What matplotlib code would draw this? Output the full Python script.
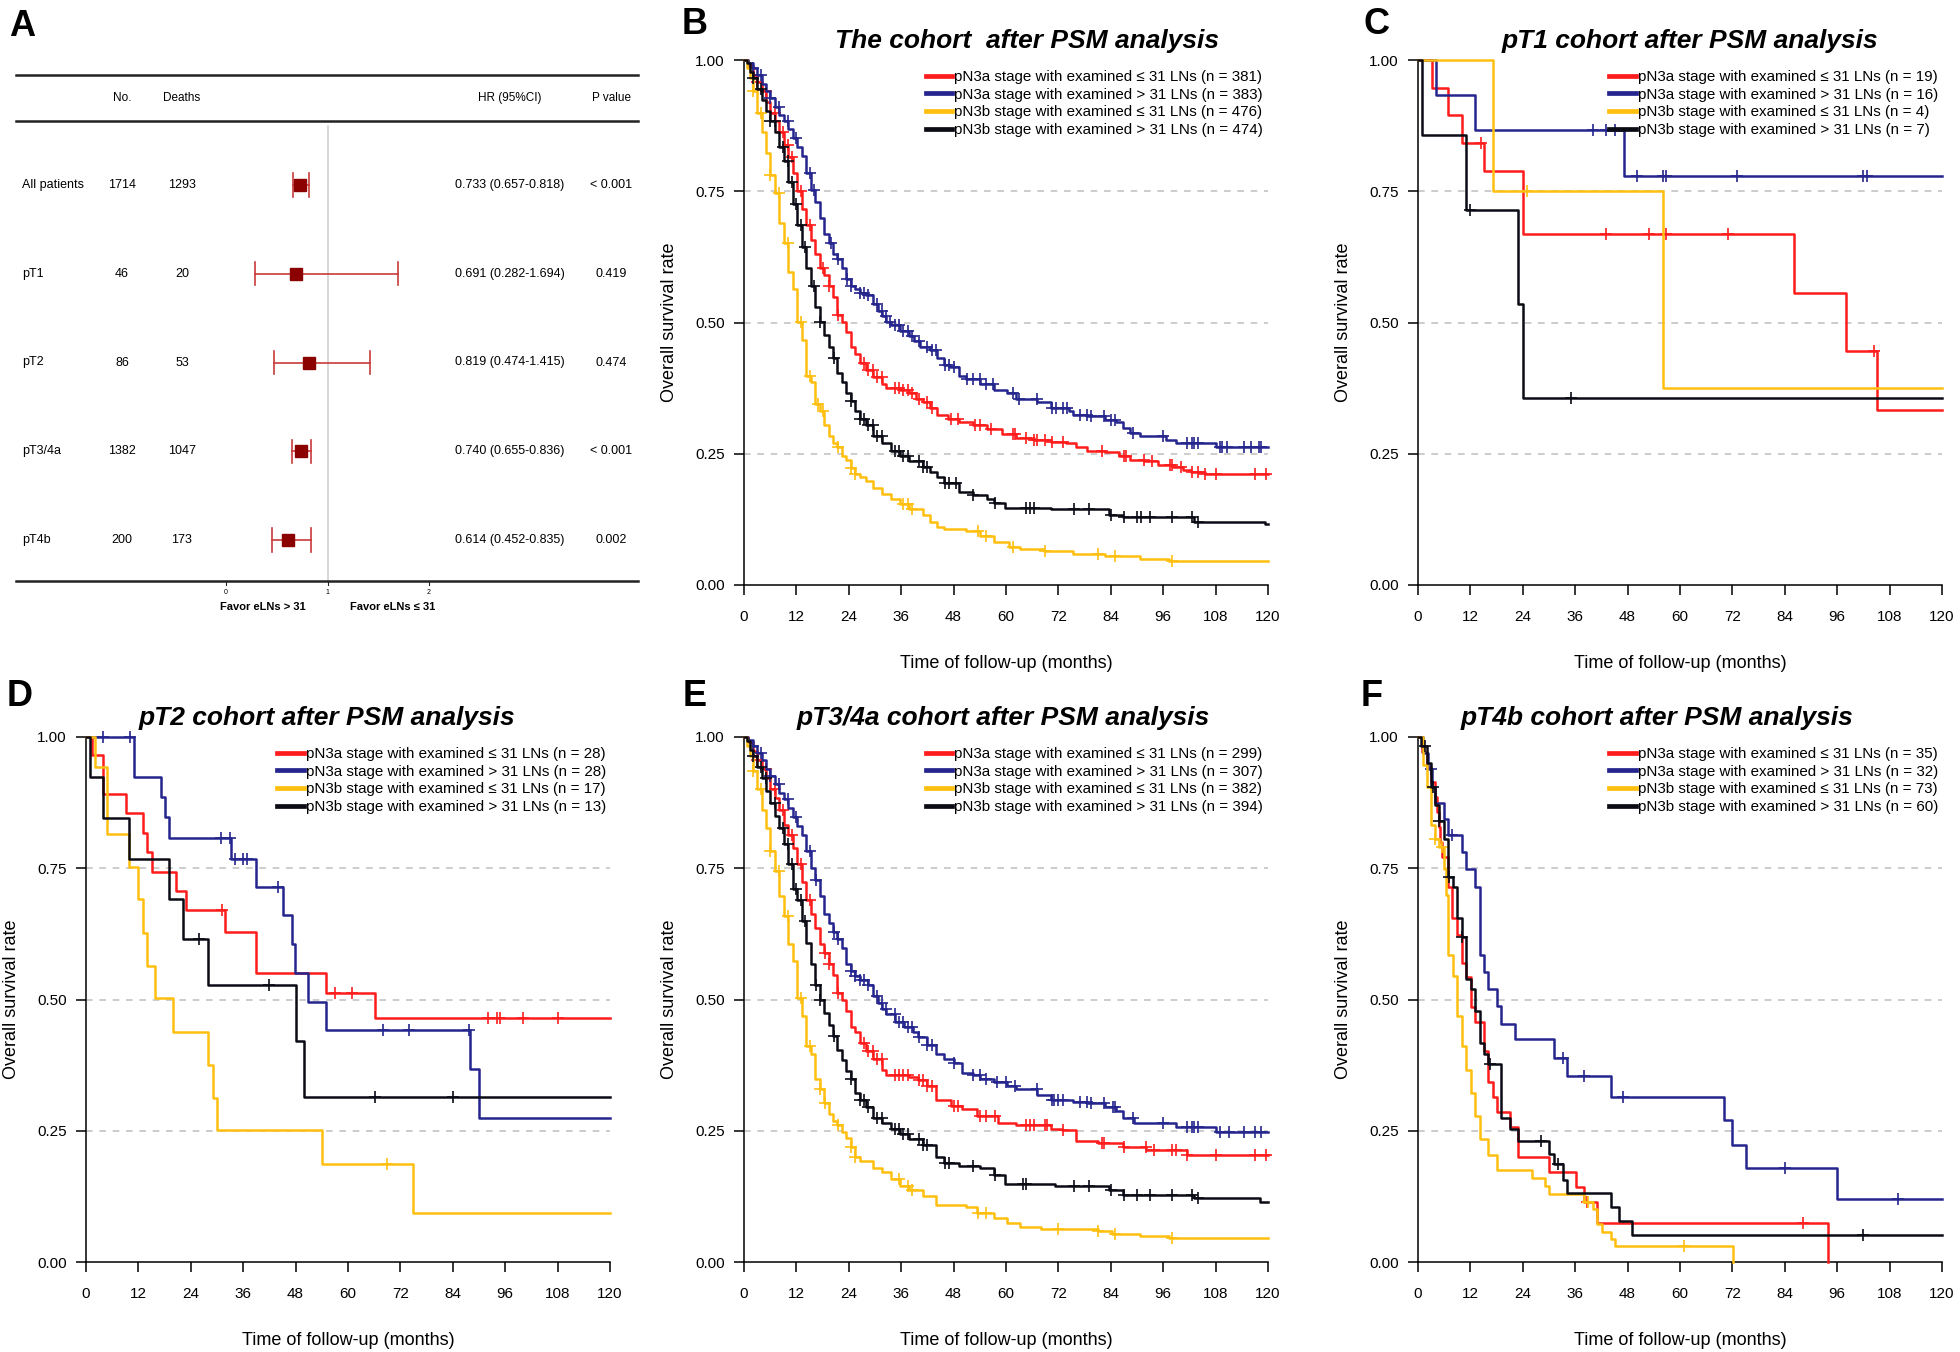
import numpy as np
import matplotlib
matplotlib.use("Agg")
import matplotlib.pyplot as plt
from matplotlib.lines import Line2D
from matplotlib.transforms import blended_transform_factory

plt.rcParams['font.family'] = ['Liberation Sans', 'DejaVu Sans']

RED = '#ff1c1c'
BLUE = '#25258e'
YELLOW = '#ffbf0f'
BLACK = '#0b0b16'

# ---------------- panel A: forest plot ----------------
groups = ['All patients', 'pT1', 'pT2', 'pT3/4a', 'pT4b']
n_pts = [1714, 46, 86, 1382, 200]
deaths = [1293, 20, 53, 1047, 173]
hr = [0.733, 0.691, 0.819, 0.740, 0.614]
hr_lo = [0.657, 0.282, 0.474, 0.655, 0.452]
hr_hi = [0.818, 1.694, 1.415, 0.836, 0.835]
p_vals = ['< 0.001', '0.419', '0.474', '< 0.001', '0.002']
hr_ticks = [0, 1, 2]

# ---------------- panel B: whole cohort ----------------
b_red_t = [1.0, 2.0, 3.0, 4.1, 5.1, 6.0, 7.1, 8.1, 9.1, 10.1, 11.2, 12.2, 13.2, 14.2, 15.3, 16.3, 17.3, 18.3,
           19.4, 20.3, 21.4, 22.4, 23.4, 24.4, 25.5, 26.5, 27.9, 29.6, 31.6, 32.6, 35.7, 37.7, 39.4, 41.0,
           42.6, 44.3, 46.7, 49.2, 52.4, 55.7, 59.0, 62.2, 66.3, 70.4, 73.7, 76.1, 78.6, 82.7, 85.9, 88.4,
           91.7, 94.9, 98.2, 100.6, 102.3, 105.5]
b_red_s = [0.988, 0.971, 0.958, 0.941, 0.920, 0.900, 0.883, 0.862, 0.839, 0.815, 0.784, 0.750, 0.716, 0.685,
           0.658, 0.631, 0.604, 0.590, 0.569, 0.549, 0.515, 0.501, 0.481, 0.454, 0.440, 0.423, 0.409, 0.396,
           0.382, 0.375, 0.372, 0.365, 0.355, 0.348, 0.338, 0.324, 0.317, 0.311, 0.304, 0.297, 0.287, 0.280,
           0.277, 0.273, 0.270, 0.263, 0.256, 0.253, 0.246, 0.239, 0.236, 0.229, 0.225, 0.219, 0.215, 0.212]
b_red_c = [3, 5, 7, 9, 10, 11, 13, 15, 18, 19.5, 21.5, 27.5, 28.5, 29.5, 30.5, 31.5, 34.5, 35.5, 36.5, 37.5,
           38.5, 40, 42, 43, 47.5, 49, 53, 54, 56.5, 61.5, 62, 64.5, 66.5, 67, 69, 70.5, 73, 82, 87, 87.5,
           91.5, 93.5, 97.5, 98, 100, 102.5, 104, 105.5, 108, 117, 119.5]

b_blue_t = [1.0, 2.0, 3.0, 4.1, 5.1, 6.0, 7.1, 8.1, 9.1, 10.1, 11.2, 12.2, 13.2, 14.2, 15.3, 16.3, 17.3, 18.3,
            19.4, 20.3, 21.4, 22.4, 23.4, 24.4, 25.5, 26.5, 27.9, 29.6, 30.6, 31.6, 32.6, 33.7, 35.7, 37.7,
            39.0, 40.2, 42.6, 44.3, 45.9, 47.1, 49.2, 50.8, 54.1, 57.3, 60.2, 62.2, 67.1, 70.4, 74.5, 75.3,
            78.6, 82.7, 85.1, 86.8, 88.4, 90.8, 96.6, 99.0, 108.0]
b_blue_s = [0.995, 0.985, 0.971, 0.954, 0.941, 0.927, 0.910, 0.896, 0.883, 0.869, 0.852, 0.835, 0.818, 0.784,
            0.753, 0.730, 0.699, 0.668, 0.651, 0.631, 0.621, 0.604, 0.583, 0.569, 0.563, 0.556, 0.552, 0.535,
            0.522, 0.512, 0.501, 0.495, 0.484, 0.474, 0.464, 0.454, 0.447, 0.433, 0.420, 0.416, 0.399, 0.392,
            0.382, 0.372, 0.365, 0.355, 0.348, 0.338, 0.331, 0.324, 0.321, 0.314, 0.311, 0.300, 0.290, 0.283,
            0.277, 0.270, 0.263]
b_blue_c = [2, 4, 6, 8, 10, 12, 15, 16, 20, 21.5, 23.5, 24.5, 26.5, 27.5, 28.5, 30.5, 31.5, 32.5, 33.5, 34.5,
            35.5, 36.5, 37.5, 38.5, 40, 42, 43, 44, 46, 47, 48, 51, 52.5, 54, 55.5, 57, 61.5, 63, 67, 70.5,
            71.5, 73, 74, 77, 78.5, 79.5, 82.5, 84, 85, 89, 96, 101.5, 102.5, 103, 104, 109, 109.5, 110.5,
            114.5, 116, 118, 118.5]

b_yellow_t = [0.6, 1.4, 2.0, 3.0, 4.1, 5.1, 6.0, 7.1, 8.1, 9.1, 10.1, 11.2, 12.2, 13.2, 14.2, 15.3, 16.3, 17.3,
              18.3, 19.4, 20.3, 21.4, 22.4, 23.4, 24.4, 25.5, 26.5, 27.9, 29.6, 31.6, 33.7, 35.7, 37.7, 41.0,
              42.6, 44.3, 45.9, 50.8, 54.1, 57.3, 60.6, 63.1, 68.8, 75.3, 82.7, 90.8, 97.4]
b_yellow_s = [0.985, 0.965, 0.941, 0.900, 0.862, 0.822, 0.781, 0.747, 0.689, 0.651, 0.597, 0.563, 0.501, 0.467,
              0.399, 0.386, 0.345, 0.331, 0.304, 0.283, 0.270, 0.263, 0.246, 0.239, 0.222, 0.212, 0.205, 0.198,
              0.185, 0.174, 0.164, 0.154, 0.144, 0.134, 0.120, 0.110, 0.106, 0.103, 0.093, 0.082, 0.072, 0.069,
              0.065, 0.059, 0.055, 0.049, 0.045]
b_yellow_c = [2, 4, 6, 8, 10, 13, 15, 17, 18, 21.5, 24.5, 25.5, 36.5, 37.5, 38.5, 53.5, 55.5, 61.5, 69, 81,
              85, 98]

b_black_t = [0.6, 1.4, 2.0, 3.0, 4.1, 5.1, 6.0, 7.1, 8.1, 9.1, 10.1, 11.2, 12.2, 13.2, 14.2, 15.3, 16.3, 17.3,
             18.3, 19.4, 20.3, 21.4, 22.4, 23.4, 24.4, 25.5, 26.5, 27.9, 29.6, 31.6, 33.7, 35.7, 37.7, 41.0,
             42.6, 44.3, 45.9, 49.2, 52.4, 55.7, 57.3, 59.8, 70.4, 83.5, 86.8, 103.1, 119.4]
b_black_s = [0.995, 0.978, 0.965, 0.944, 0.924, 0.903, 0.883, 0.862, 0.835, 0.808, 0.767, 0.726, 0.685, 0.644,
             0.604, 0.569, 0.529, 0.501, 0.477, 0.454, 0.433, 0.403, 0.386, 0.365, 0.351, 0.331, 0.317, 0.304,
             0.283, 0.270, 0.256, 0.246, 0.236, 0.225, 0.215, 0.205, 0.195, 0.178, 0.171, 0.164, 0.157, 0.147,
             0.144, 0.134, 0.130, 0.120, 0.116]
b_black_c = [2, 4, 6, 7, 9, 10, 11, 12, 13, 14, 16, 17.5, 20.5, 24.5, 26.5, 27.5, 28.5, 29.5, 30.5, 31.5,
             34.5, 35.5, 36.5, 37.5, 40, 41, 42, 46, 47, 48.5, 52.5, 57.5, 64.5, 65.5, 66.5, 75.5, 79, 84, 87,
             90, 91, 93, 98, 102.5, 104]

# ---------------- panel C: pT1 ----------------
c_red_t = [3.1, 6.9, 10.1, 15.0, 24.0, 86.0, 98.0, 105.0]
c_red_s = [0.947, 0.895, 0.842, 0.789, 0.668, 0.557, 0.446, 0.334]
c_red_c = [14.4, 43.0, 52.9, 56.9, 71.0, 104.5]
c_blue_t = [4.2, 13.0, 47.1]
c_blue_s = [0.934, 0.866, 0.780]
c_blue_c = [40.0, 43.0, 45.0, 50.1, 56.0, 56.9, 73.0, 101.9, 102.8]
c_yellow_t = [17.1, 56.0]
c_yellow_s = [0.750, 0.376]
c_yellow_c = [24.9]
c_black_t = [0.9, 10.9, 23.0, 24.0]
c_black_s = [0.858, 0.714, 0.535, 0.357]
c_black_c = [12.0, 35.0]

# ---------------- panel D: pT2 ----------------
d_red_t = [1.3, 4.0, 9.1, 13.0, 14.0, 15.0, 20.7, 23.0, 31.9, 38.9, 54.9, 66.1]
d_red_s = [0.965, 0.892, 0.856, 0.817, 0.780, 0.743, 0.707, 0.670, 0.629, 0.551, 0.512, 0.465]
d_red_c = [31.1, 57.1, 60.9, 92.0, 94.1, 94.9, 100.0, 108.0]
d_blue_t = [11.0, 17.1, 18.1, 19.0, 33.2, 38.9, 45.1, 47.1, 47.9, 50.8, 54.9, 88.0, 90.0]
d_blue_s = [0.924, 0.886, 0.847, 0.807, 0.768, 0.715, 0.661, 0.605, 0.551, 0.495, 0.441, 0.368, 0.275]
d_blue_c = [4.0, 10.0, 31.0, 33.0, 34.1, 35.9, 36.8, 44.0, 68.0, 73.9, 87.7]
d_yellow_t = [2.0, 4.9, 9.8, 11.9, 13.0, 14.0, 15.9, 19.9, 27.9, 29.0, 29.9, 54.0, 75.0]
d_yellow_s = [0.942, 0.815, 0.753, 0.691, 0.627, 0.564, 0.503, 0.439, 0.376, 0.313, 0.251, 0.187, 0.093]
d_yellow_c = [68.9]
d_black_t = [1.0, 4.0, 9.8, 19.0, 22.1, 27.9, 48.0, 50.0]
d_black_s = [0.924, 0.846, 0.768, 0.692, 0.615, 0.527, 0.421, 0.315]
d_black_c = [25.9, 42.0, 66.1, 84.1]

# ---------------- panel E: pT3/4a ----------------
e_red_t = [1.0, 2.0, 3.0, 4.1, 5.1, 6.0, 7.1, 8.1, 9.1, 10.1, 11.2, 12.2, 13.2, 14.2, 15.3, 16.3, 17.3, 18.3,
           19.4, 20.3, 21.4, 22.4, 23.4, 24.4, 25.5, 26.5, 27.9, 29.6, 31.6, 32.6, 37.7, 39.8, 41.8, 43.9,
           47.5, 50.0, 53.3, 58.2, 62.2, 70.4, 72.9, 76.1, 81.0, 86.8, 92.1, 101.5]
e_red_s = [0.990, 0.973, 0.956, 0.939, 0.922, 0.901, 0.884, 0.860, 0.833, 0.813, 0.789, 0.758, 0.724, 0.690,
           0.663, 0.636, 0.605, 0.588, 0.567, 0.547, 0.513, 0.499, 0.479, 0.448, 0.438, 0.418, 0.401, 0.387,
           0.366, 0.356, 0.353, 0.346, 0.336, 0.309, 0.298, 0.292, 0.278, 0.264, 0.261, 0.254, 0.251, 0.230,
           0.227, 0.220, 0.213, 0.203]
e_red_c = [3, 5, 7, 9, 11, 13, 15, 18.5, 19.5, 21.5, 27.5, 28.5, 29.5, 30.5, 31.5, 34.5, 35.5, 36.5, 37.5,
           40, 41, 42, 43, 48, 49, 54, 55.5, 57.5, 64.5, 65.5, 66.5, 69, 69.5, 73, 82, 82.5, 87, 92, 94, 98,
           99, 101.5, 108, 117, 119.5]

e_blue_t = [1.0, 2.0, 3.0, 4.1, 5.1, 6.0, 7.1, 8.1, 9.1, 10.1, 11.2, 12.2, 13.2, 14.2, 15.3, 16.3, 17.3, 18.3,
            19.4, 20.3, 21.4, 22.4, 23.4, 24.4, 25.5, 26.5, 28.5, 29.6, 30.6, 31.6, 32.6, 34.6, 36.7, 38.7,
            39.8, 41.8, 43.9, 45.9, 48.0, 50.0, 52.4, 54.1, 57.3, 60.2, 62.2, 67.2, 70.4, 75.3, 78.6, 82.7,
            85.1, 86.8, 89.2, 99.0, 108.0]
e_blue_s = [0.995, 0.983, 0.969, 0.956, 0.939, 0.925, 0.911, 0.894, 0.881, 0.864, 0.847, 0.830, 0.813, 0.782,
            0.751, 0.728, 0.697, 0.663, 0.646, 0.629, 0.615, 0.598, 0.567, 0.554, 0.544, 0.537, 0.527, 0.506,
            0.493, 0.482, 0.472, 0.458, 0.448, 0.438, 0.428, 0.414, 0.397, 0.387, 0.380, 0.360, 0.356, 0.349,
            0.343, 0.336, 0.329, 0.319, 0.309, 0.305, 0.302, 0.295, 0.288, 0.275, 0.264, 0.257, 0.247]
e_blue_c = [2, 4, 6, 8, 10, 12, 15, 16.5, 20.5, 21.5, 24.5, 25.5, 26.5, 27.5, 28.5, 30.5, 31.5, 32.5, 34.5,
            35.5, 36.5, 37.5, 38.5, 40, 42, 43, 48, 52.5, 54, 55.5, 58, 60, 62, 67, 70.5, 71, 72, 73, 77,
            78.5, 79.5, 82.5, 84.5, 85, 89, 96, 101.5, 102.5, 103, 104, 109, 111, 114.5, 117, 118.5]

e_yellow_t = [0.6, 1.4, 2.0, 3.0, 4.1, 5.1, 6.0, 7.1, 8.1, 9.1, 10.1, 11.2, 12.2, 13.2, 14.2, 15.3, 16.3, 17.3,
              18.3, 19.4, 20.3, 21.4, 22.4, 23.4, 24.4, 25.5, 26.5, 29.6, 31.6, 33.7, 35.7, 37.7, 41.0, 43.9,
              50.8, 53.3, 57.3, 60.2, 63.1, 68.0, 81.0, 84.3, 90.8, 97.4]
e_yellow_s = [0.983, 0.963, 0.935, 0.901, 0.860, 0.826, 0.782, 0.745, 0.697, 0.659, 0.605, 0.574, 0.503, 0.469,
              0.411, 0.397, 0.349, 0.329, 0.302, 0.281, 0.268, 0.261, 0.247, 0.237, 0.220, 0.200, 0.193, 0.179,
              0.172, 0.159, 0.145, 0.138, 0.125, 0.108, 0.104, 0.094, 0.084, 0.074, 0.067, 0.063, 0.060, 0.053,
              0.050, 0.045]
e_yellow_c = [2, 4, 6, 8, 10, 13, 15, 17.5, 18.5, 21.5, 24.5, 25.5, 35.5, 37.5, 38.5, 53.5, 55.5, 72, 81,
              85, 98]

e_black_t = [0.6, 1.4, 2.0, 3.0, 4.1, 5.1, 6.0, 7.1, 8.1, 9.1, 10.1, 11.2, 12.2, 13.2, 14.2, 15.3, 16.3, 17.3,
             18.3, 19.4, 20.3, 21.4, 22.4, 23.4, 24.4, 25.5, 26.5, 27.9, 29.6, 31.6, 33.7, 35.7, 37.7, 41.0,
             43.9, 45.9, 49.2, 54.1, 57.3, 59.8, 71.2, 83.5, 86.8, 103.1, 118.2]
e_black_s = [0.993, 0.976, 0.963, 0.942, 0.922, 0.898, 0.874, 0.850, 0.826, 0.796, 0.758, 0.710, 0.690, 0.649,
             0.608, 0.567, 0.527, 0.499, 0.475, 0.452, 0.431, 0.404, 0.384, 0.363, 0.349, 0.322, 0.309, 0.295,
             0.275, 0.264, 0.254, 0.244, 0.234, 0.223, 0.200, 0.189, 0.183, 0.179, 0.166, 0.149, 0.145, 0.138,
             0.128, 0.121, 0.114]
e_black_c = [2, 4, 5, 7, 9, 10, 11, 12, 13, 14, 16.5, 17.5, 20.5, 24.5, 26.5, 27.5, 28.5, 30.5, 31.5, 34.5,
             35.5, 36.5, 37.5, 40, 41, 42, 46, 47, 52.5, 57.5, 64, 64.5, 75.5, 79, 84, 87, 90, 93, 98, 102.5,
             104]

# ---------------- panel F: pT4b ----------------
f_red_t = [0.9, 2.0, 2.9, 3.9, 4.3, 4.7, 5.1, 5.4, 6.9, 7.8, 9.0, 10.0, 11.0, 12.1, 13.1, 15.0, 16.1, 17.1,
           18.1, 21.1, 23.0, 30.1, 36.1, 38.1, 41.1, 94.0]
f_red_s = [0.971, 0.943, 0.914, 0.886, 0.857, 0.829, 0.800, 0.771, 0.714, 0.656, 0.622, 0.570, 0.542, 0.486,
           0.458, 0.401, 0.343, 0.315, 0.285, 0.258, 0.200, 0.171, 0.142, 0.114, 0.075, 0.0]
f_red_c = [38.8, 88.1]
f_blue_t = [1.1, 2.3, 3.1, 3.9, 6.0, 6.9, 10.0, 11.0, 13.1, 14.1, 15.0, 16.1, 18.1, 19.1, 22.1, 31.1, 34.1,
            44.1, 70.1, 72.0, 75.0, 96.0]
f_blue_s = [0.970, 0.940, 0.905, 0.874, 0.843, 0.813, 0.780, 0.749, 0.714, 0.584, 0.552, 0.520, 0.487, 0.454,
            0.424, 0.389, 0.354, 0.315, 0.270, 0.223, 0.179, 0.120]
f_blue_c = [3.0, 7.8, 33.1, 38.1, 47.0, 84.1, 110.0]
f_yellow_t = [1.1, 2.0, 2.9, 3.9, 4.9, 6.0, 6.4, 6.9, 8.0, 9.0, 10.0, 11.0, 12.1, 13.1, 14.1, 16.1, 18.1,
              26.1, 29.1, 30.1, 38.1, 40.1, 41.1, 42.1, 44.1, 45.1, 72.1]
f_yellow_s = [0.946, 0.905, 0.833, 0.806, 0.790, 0.748, 0.700, 0.584, 0.544, 0.469, 0.411, 0.366, 0.322,
              0.278, 0.234, 0.204, 0.176, 0.160, 0.145, 0.130, 0.114, 0.101, 0.072, 0.057, 0.043, 0.030, 0.0]
f_yellow_c = [3.9, 5.4, 39.0, 60.9]
f_black_t = [0.65, 2.0, 2.9, 3.9, 4.9, 6.0, 6.9, 8.0, 9.0, 10.0, 11.0, 12.1, 13.1, 14.1, 15.0, 16.1, 19.1,
             21.1, 23.0, 30.1, 31.1, 33.1, 34.1, 44.1, 46.1, 49.0]
f_black_s = [0.983, 0.950, 0.905, 0.870, 0.840, 0.806, 0.734, 0.714, 0.656, 0.619, 0.540, 0.520, 0.479,
             0.418, 0.397, 0.378, 0.275, 0.254, 0.230, 0.206, 0.186, 0.157, 0.131, 0.104, 0.079, 0.052]
f_black_c = [1.5, 3.5, 4.9, 7.2, 10.0, 16.6, 28.1, 32.1, 102.0]

legend_b = [381, 383, 476, 474]
legend_c = [19, 16, 4, 7]
legend_d = [28, 28, 17, 13]
legend_e = [299, 307, 382, 394]
legend_f = [35, 32, 73, 60]

W, H = 1960, 1352
fig = plt.figure(figsize=(W / 100, H / 100), dpi=100)


def fx(px):
    return px / W


def fy(py):
    return 1 - py / H


def km(ax, t, s, cens, color, end=120):
    t = np.asarray(t, float)
    s = np.asarray(s, float)
    last = end if s[-1] > 0 else t[-1]
    tt = np.concatenate([[0], t, [last]])
    ss = np.concatenate([[1.0], s, [s[-1]]])
    ax.step(tt, ss, where='post', color=color, lw=1.8, clip_on=False, zorder=3)
    cens = np.asarray(cens, float)
    idx = np.searchsorted(t, cens, side='right') - 1
    cy = np.where(idx >= 0, s[np.clip(idx, 0, None)], 1.0)
    ax.plot(cens, cy, ls='none', marker='+', ms=8, mew=1.2, color=color, clip_on=False, zorder=3)


def km_panel(left_px, top_px, title, title_x, letter, letter_xy, series, counts, legend_right_px):
    ax = fig.add_axes([fx(left_px), fy(top_px + 525), fx(524), 525 / H])
    for t, s, c, col in series:
        km(ax, t, s, c, col)
    ax.set_xlim(0, 120)
    ax.set_ylim(0, 1)
    for g in [0.25, 0.5, 0.75]:
        ax.axhline(g, color='#c4c4c4', lw=1.2, ls=(0, (4, 4)), zorder=1)
    ax.set_xticks(np.arange(0, 121, 12))
    ax.set_yticks([0, 0.25, 0.5, 0.75, 1.0])
    ax.set_yticklabels(['0.00', '0.25', '0.50', '0.75', '1.00'])
    ax.tick_params(labelsize=11, length=7, width=1.1, pad=7, direction='out')
    ax.tick_params(axis='x', pad=11)
    for sp in ['top', 'right']:
        ax.spines[sp].set_visible(False)
    for sp in ['left', 'bottom']:
        ax.spines[sp].set_linewidth(1.1)
    ax.set_ylabel('Overall survival rate', fontsize=13, va='center')
    ax.yaxis.set_label_coords(-0.142, 0.5)
    ax.set_xlabel('Time of follow-up (months)', fontsize=13, va='center')
    ax.xaxis.set_label_coords(0.5, -0.15)
    labels = ['pN3a stage with examined \u2264 31 LNs (n = %d)' % counts[0],
              'pN3a stage with examined > 31 LNs (n = %d)' % counts[1],
              'pN3b stage with examined \u2264 31 LNs (n = %d)' % counts[2],
              'pN3b stage with examined > 31 LNs (n = %d)' % counts[3]]
    handles = [Line2D([], [], color=c, lw=3.4) for _, _, _, c in series]
    ax.legend(handles, labels, loc='upper right', bbox_to_anchor=(fx(legend_right_px), fy(top_px + 10)),
              bbox_transform=fig.transFigure, frameon=False, fontsize=10.9, handlelength=1.75,
              handletextpad=0.12, labelspacing=0.24, borderpad=0, borderaxespad=0)
    fig.text(fx(title_x), fy(top_px - 19), title, fontsize=19, fontweight='bold', fontstyle='italic',
             ha='center', va='center')
    fig.text(fx(letter_xy[0]), fy(letter_xy[1]), letter, fontsize=26, fontweight='bold',
             ha='center', va='center')
    return ax


km_panel(744, 60, 'The cohort  after PSM analysis', 1027, 'B', (695, 24),
         [(b_red_t, b_red_s, b_red_c, RED), (b_blue_t, b_blue_s, b_blue_c, BLUE),
          (b_yellow_t, b_yellow_s, b_yellow_c, YELLOW), (b_black_t, b_black_s, b_black_c, BLACK)],
         legend_b, 1263)
km_panel(1418, 60, 'pT1 cohort after PSM analysis', 1690, 'C', (1376, 24),
         [(c_red_t, c_red_s, c_red_c, RED), (c_blue_t, c_blue_s, c_blue_c, BLUE),
          (c_yellow_t, c_yellow_s, c_yellow_c, YELLOW), (c_black_t, c_black_s, c_black_c, BLACK)],
         legend_c, 1938)
km_panel(86, 737, 'pT2 cohort after PSM analysis', 327, 'D', (20, 697),
         [(d_red_t, d_red_s, d_red_c, RED), (d_blue_t, d_blue_s, d_blue_c, BLUE),
          (d_yellow_t, d_yellow_s, d_yellow_c, YELLOW), (d_black_t, d_black_s, d_black_c, BLACK)],
         legend_d, 606)
km_panel(744, 737, 'pT3/4a cohort after PSM analysis', 1003, 'E', (695, 697),
         [(e_red_t, e_red_s, e_red_c, RED), (e_blue_t, e_blue_s, e_blue_c, BLUE),
          (e_yellow_t, e_yellow_s, e_yellow_c, YELLOW), (e_black_t, e_black_s, e_black_c, BLACK)],
         legend_e, 1263)
km_panel(1418, 737, 'pT4b cohort after PSM analysis', 1657, 'F', (1372, 697),
         [(f_red_t, f_red_s, f_red_c, RED), (f_blue_t, f_blue_s, f_blue_c, BLUE),
          (f_yellow_t, f_yellow_s, f_yellow_c, YELLOW), (f_black_t, f_black_s, f_black_c, BLACK)],
         legend_f, 1938)

# ---------------- forest plot ----------------
# panel A occupies px x 0..660, y 0..640; x in HR units (0 at px 226, 1 unit = 101.5 px)
# y in row units (row 0 at px 185, 88.75 px per row)
axA = fig.add_axes([0, fy(640), fx(660), 640 / H])
axA.set_xlim(-226 / 101.5, (660 - 226) / 101.5)
axA.set_ylim((640 - 185) / 88.75, -185 / 88.75)
axA.axis('off')
tr = blended_transform_factory(axA.transAxes, axA.transData)


def ax_frac(px):
    return px / 660


def row(py):
    return (py - 185) / 88.75


for yl in [row(75), row(121), row(581)]:
    axA.plot([ax_frac(16), ax_frac(638)], [yl, yl], color='#222222', lw=1.8, transform=tr, clip_on=False)
axA.plot([1, 1], [row(126), row(581)], color='#d4d4d4', lw=1.3, zorder=0)

hdr_y = row(98)
axA.text(ax_frac(122), hdr_y, 'No.', fontsize=8.5, ha='center', va='center', transform=tr)
axA.text(ax_frac(182), hdr_y, 'Deaths', fontsize=8.5, ha='center', va='center', transform=tr)
axA.text(ax_frac(510), hdr_y, 'HR (95%CI)', fontsize=8.5, ha='center', va='center', transform=tr)
axA.text(ax_frac(611), hdr_y, 'P value', fontsize=8.5, ha='center', va='center', transform=tr)

for i, g in enumerate(groups):
    axA.text(ax_frac(22), i, g, fontsize=9, ha='left', va='center', transform=tr)
    axA.text(ax_frac(122), i, str(n_pts[i]), fontsize=9, ha='center', va='center', transform=tr)
    axA.text(ax_frac(182), i, str(deaths[i]), fontsize=9, ha='center', va='center', transform=tr)
    axA.text(ax_frac(510), i, '%.3f (%.3f-%.3f)' % (hr[i], hr_lo[i], hr_hi[i]), fontsize=9,
             ha='center', va='center', transform=tr)
    axA.text(ax_frac(611), i, p_vals[i], fontsize=9, ha='center', va='center', transform=tr)
    axA.plot([hr_lo[i], hr_hi[i]], [i, i], color='#c8393b', lw=1.2)
    axA.plot([hr_lo[i], hr_lo[i]], [i - 0.13, i + 0.13], color='#c8393b', lw=1.2)
    axA.plot([hr_hi[i], hr_hi[i]], [i - 0.13, i + 0.13], color='#c8393b', lw=1.2)
    axA.plot(hr[i], i, marker='s', ms=8, color='#8b0000', ls='none')

for tk in hr_ticks:
    axA.plot([tk, tk], [row(581), row(585)], color='#222222', lw=0.8)
    axA.text(tk, row(592), str(tk), fontsize=5, ha='center', va='center')
axA.text(ax_frac(263), row(607), 'Favor eLNs > 31', fontsize=8, fontweight='bold', ha='center',
         va='center', transform=tr)
axA.text(ax_frac(393), row(607), 'Favor eLNs \u2264 31', fontsize=8, fontweight='bold', ha='center',
         va='center', transform=tr)
fig.text(fx(22), fy(27), 'A', fontsize=26, fontweight='bold', ha='center', va='center')

fig.savefig('out.png', dpi=100, facecolor='white')
